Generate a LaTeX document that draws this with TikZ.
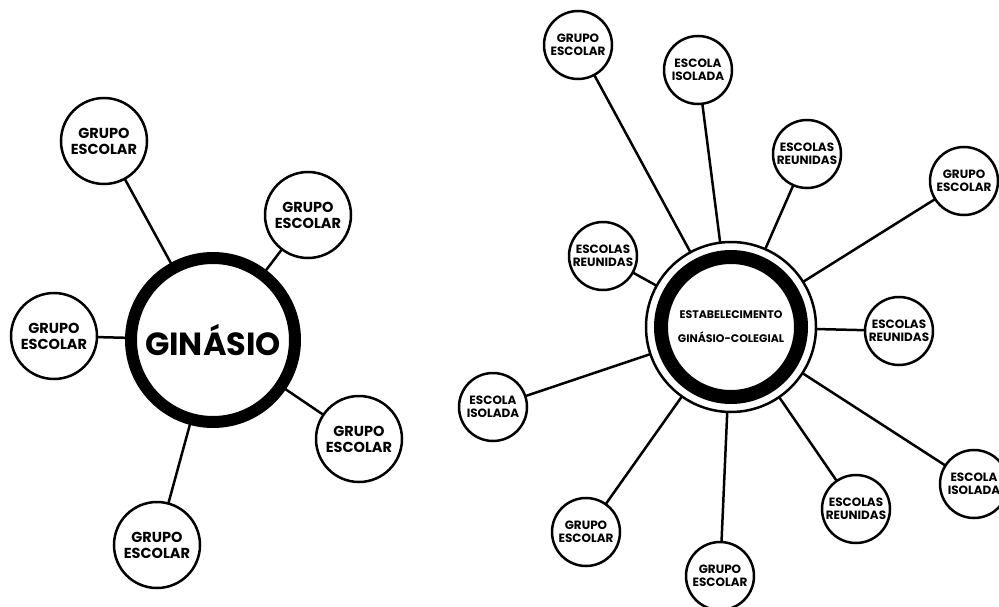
\documentclass[tikz,border=0pt]{standalone}
\usepackage{fontspec}
\setmainfont{Poppins}
\begin{document}
\begin{tikzpicture}[x=1pt, y=-1pt, line width=2.5pt, every node/.style={circle, draw, fill=white, align=center, inner sep=0pt, outer sep=0pt}, bigsat/.style={minimum size=86pt, font=\bfseries\fontsize{14.5}{16}\selectfont}, smallsat/.style={minimum size=68pt, font=\bfseries\fontsize{12}{13}\selectfont}]
        \clip (0, 0) rectangle (999, 607);
        % ginasio
        \node[minimum size=164pt, line width=12pt, font=\bfseries\fontsize{32}{32}\selectfont] (ginasio) at (213, 340) {GINÁSIO};
        \node[bigsat] (ge1) at (104, 141) {GRUPO\\ESCOLAR};
        \node[bigsat] (ge2) at (308, 215) {GRUPO\\ESCOLAR};
        \node[bigsat] (ge3) at (54, 336) {GRUPO\\ESCOLAR};
        \node[bigsat] (ge4) at (359, 439) {GRUPO\\ESCOLAR};
        \node[bigsat] (ge5) at (157, 545) {GRUPO\\ESCOLAR};
        \draw (ginasio) -- (ge1);
        \draw (ginasio) -- (ge2);
        \draw (ginasio) -- (ge3);
        \draw (ginasio) -- (ge4);
        \draw (ginasio) -- (ge5);
        % estabelecimento
        \node[minimum size=170pt, font=\bfseries\fontsize{11}{24}\selectfont] (estab) at (731, 327) {ESTABELECIMENTO\\GINÁSIO-COLEGIAL};
        \draw[line width=14pt] (estab.center) circle[radius=70];
        \node[smallsat] (grupo1) at (578, 45) {GRUPO\\ESCOLAR};
        \node[smallsat] (isol1) at (698, 70) {ESCOLA\\ISOLADA};
        \node[smallsat] (reun1) at (807, 154) {ESCOLAS\\REUNIDAS};
        \node[smallsat] (grupo2) at (964, 181) {GRUPO\\ESCOLAR};
        \node[smallsat] (reun2) at (603, 256) {ESCOLAS\\REUNIDAS};
        \node[smallsat] (reun3) at (899, 331) {ESCOLAS\\REUNIDAS};
        \node[smallsat] (isol2) at (493, 407) {ESCOLA\\ISOLADA};
        \node[smallsat] (isol3) at (974, 484) {ESCOLA\\ISOLADA};
        \node[smallsat] (reun4) at (856, 509) {ESCOLAS\\REUNIDAS};
        \node[smallsat] (grupo3) at (586, 532) {GRUPO\\ESCOLAR};
        \node[smallsat] (grupo4) at (720, 576) {GRUPO\\ESCOLAR};
        \draw (estab) -- (grupo1);
        \draw (estab) -- (isol1);
        \draw (estab) -- (reun1);
        \draw (estab) -- (grupo2);
        \draw (estab) -- (reun2);
        \draw (estab) -- (reun3);
        \draw (estab) -- (isol2);
        \draw (estab) -- (isol3);
        \draw (estab) -- (reun4);
        \draw (estab) -- (grupo3);
        \draw (estab) -- (grupo4);
    \end{tikzpicture}
\end{document}
